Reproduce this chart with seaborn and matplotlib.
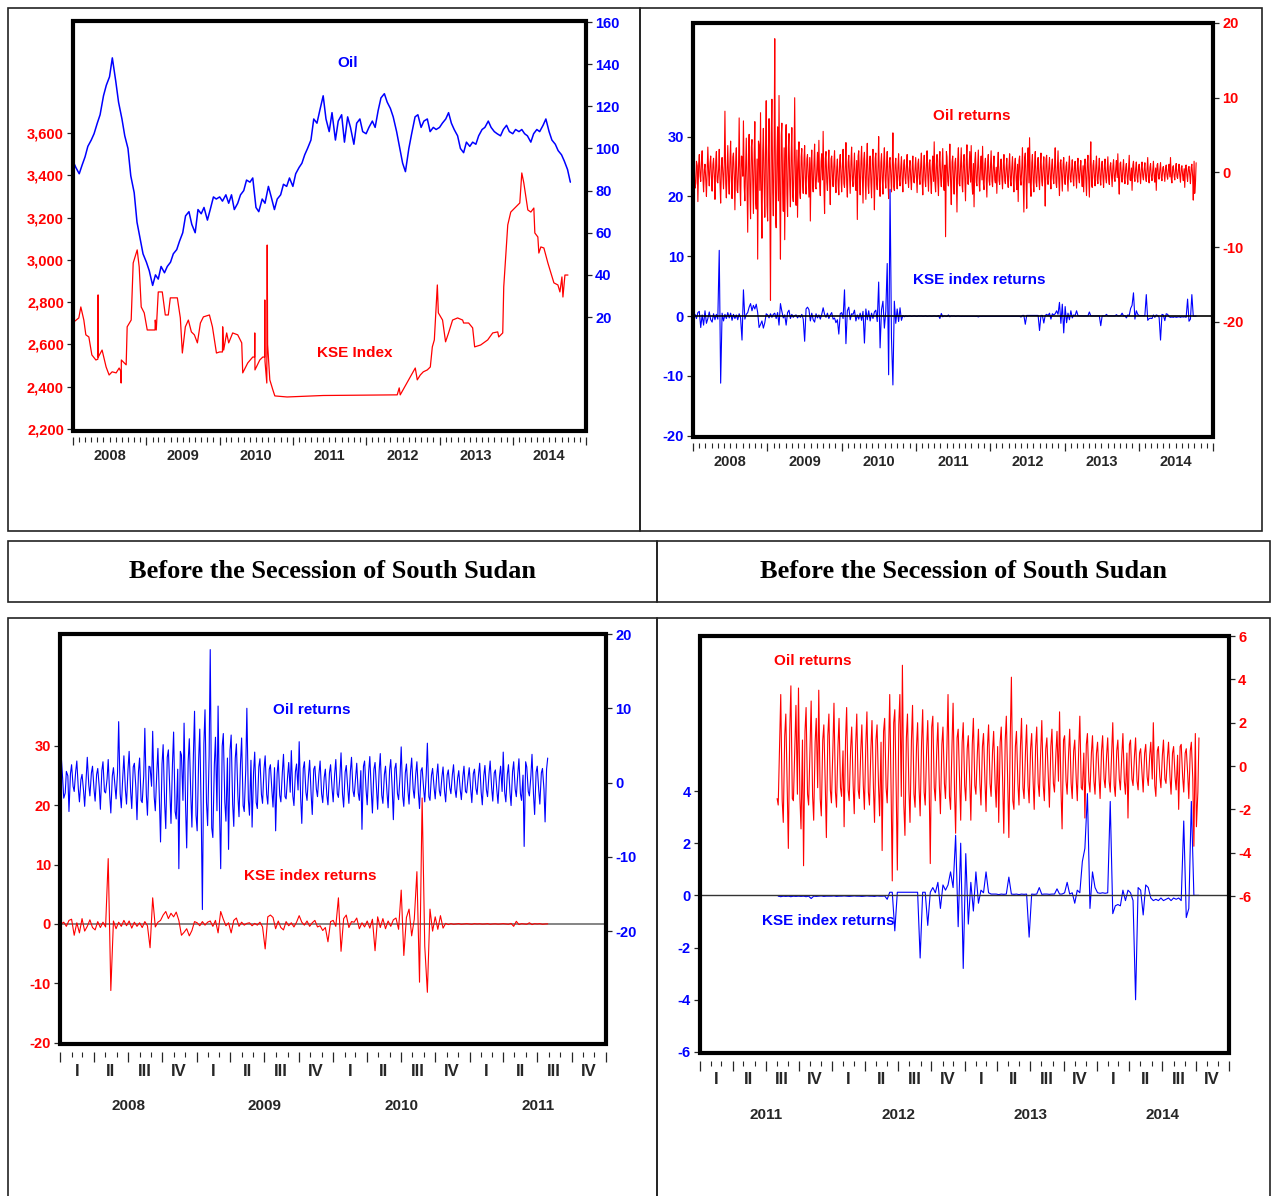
import pandas as pd
import seaborn as sns
import matplotlib
matplotlib.use("Agg")
from matplotlib import pyplot as plt
import matplotlib.dates as mdates
from matplotlib.patches import Rectangle
from matplotlib.ticker import NullFormatter, StrMethodFormatter
from matplotlib import font_manager

# ---------------- data ----------------
# oil price, semi-monthly (1st / 15th) from Jan 2008
oil_price = [94, 91, 88, 92, 96, 101, 104, 107, 112, 116, 125, 130, 134, 143,
             132, 122, 114, 106, 100, 87, 79, 65, 57, 50, 46, 42, 35, 40, 38, 44,
             41, 44, 46, 50, 52, 56, 60, 68, 70, 64, 60, 71, 69, 72, 66, 71, 77,
             76, 77, 75, 78, 74, 78, 71, 74, 78, 80, 85, 84, 86, 72, 70, 76, 74,
             82, 77, 71, 76, 78, 83, 82, 86, 82, 88, 91, 93, 97, 100, 104, 114,
             112, 118, 125, 114, 108, 117, 104, 113, 116, 103, 115, 110, 102, 112,
             114, 108, 107, 110, 113, 110, 118, 124, 126, 122, 119, 115, 108, 101,
             93, 89, 100, 107, 115, 116, 110, 113, 114, 108, 110, 109, 110, 112,
             114, 117, 112, 109, 106, 100, 98, 103, 101, 103, 102, 106, 109, 110,
             113, 110, 108, 107, 106, 109, 111, 108, 107, 109, 108, 109, 107, 106,
             103, 107, 109, 108, 111, 114, 108, 104, 102, 99, 97, 94, 90, 84]

kse_dates = ["2008-01-05", "2008-01-30", "2008-02-09", "2008-02-24", "2008-03-05",
             "2008-03-20", "2008-04-04", "2008-04-24", "2008-05-04", "2008-05-05",
             "2008-05-06", "2008-05-25", "2008-06-14", "2008-06-29", "2008-07-14",
             "2008-08-03", "2008-08-18", "2008-08-27", "2008-08-28", "2008-08-29",
             "2008-09-22", "2008-09-27", "2008-10-17", "2008-10-27", "2008-11-11",
             "2008-11-16", "2008-11-26", "2008-12-06", "2008-12-21", "2009-01-05",
             "2009-01-30", "2009-02-13", "2009-02-14", "2009-02-19", "2009-03-01",
             "2009-03-21", "2009-04-05", "2009-04-20", "2009-04-30", "2009-06-04",
             "2009-06-19", "2009-06-29", "2009-07-14", "2009-07-29", "2009-08-13",
             "2009-08-28", "2009-09-12", "2009-09-27", "2009-10-12", "2009-11-11",
             "2009-11-26", "2009-12-16", "2010-01-01", "2010-01-15", "2010-01-16",
             "2010-01-21", "2010-02-05", "2010-02-15", "2010-03-07", "2010-04-01",
             "2010-04-21", "2010-04-26", "2010-05-21", "2010-06-15", "2010-06-24",
             "2010-06-25", "2010-06-26", "2010-07-20", "2010-08-04", "2010-08-13",
             "2010-08-14", "2010-08-15", "2010-08-24", "2010-08-26", "2010-08-28",
             "2010-09-08", "2010-09-23", "2010-10-03", "2010-12-03", "2011-06-01",
             "2012-06-04", "2012-06-14", "2012-06-19", "2012-09-02", "2012-09-12",
             "2012-09-27", "2012-10-12", "2012-11-01", "2012-11-16", "2012-11-26",
             "2012-12-06", "2012-12-21", "2012-12-26", "2013-01-16", "2013-01-31",
             "2013-02-15", "2013-03-07", "2013-04-01", "2013-04-26", "2013-05-01",
             "2013-05-26", "2013-06-15", "2013-06-25", "2013-07-25", "2013-08-29",
             "2013-09-23", "2013-10-18", "2013-10-23", "2013-11-12", "2013-11-17",
             "2013-12-07", "2013-12-22", "2014-01-16", "2014-02-05", "2014-02-15",
             "2014-02-25", "2014-03-17", "2014-04-01", "2014-04-16", "2014-04-21",
             "2014-05-06", "2014-05-11", "2014-05-21", "2014-06-05", "2014-06-25",
             "2014-07-10", "2014-07-25", "2014-08-14", "2014-08-24", "2014-09-03",
             "2014-09-08", "2014-09-18", "2014-10-03"]
kse_level = [2706, 2725, 2777, 2715, 2645, 2635, 2550, 2526, 2530, 2834,
             2540, 2573, 2493, 2455, 2470, 2465, 2488, 2470, 2417, 2526,
             2503, 2683, 2715, 2985, 3032, 3047, 2966, 2777, 2749, 2668,
             2668, 2668, 2715, 2668, 2848, 2848, 2739, 2739, 2820, 2820,
             2725, 2559, 2683, 2715, 2659, 2645, 2607, 2701, 2730, 2739,
             2683, 2559, 2564, 2564, 2683, 2573, 2654, 2607, 2654, 2645,
             2607, 2465, 2512, 2540, 2540, 2654, 2479, 2526, 2540, 2540,
             2810, 2520, 2417, 3070, 2600, 2432, 2385, 2356, 2351, 2358,
             2361, 2394, 2361, 2488, 2432, 2455, 2470, 2479, 2493, 2588,
             2621, 2881, 2749, 2715, 2612, 2654, 2715, 2725, 2715, 2701,
             2701, 2678, 2588, 2597, 2621, 2654, 2659, 2635, 2654, 2872,
             3165, 3226, 3250, 3269, 3411, 3364, 3236, 3226, 3245, 3127,
             3108, 3032, 3061, 3056, 2985, 2938, 2891, 2881, 2848, 2919,
             2824, 2928, 2928]

# weekly returns (%) on Fridays from 2008-01-04, one row per ~quarter
oil_ret = [
    3.8, -2.1, 1.5, -3.9, 2.4, -1.2, 2.9, -2.6, 1.1, -3.2, 3.4, -1.8, 2.2,
    -2.5, 1.9, -3.6, 2.8, -1.4, 3.1, -4.1, 2.0, -2.2, 8.2, -3.4, 3.6, -2.9,
    4.2, -3.5, 2.6, -5.0, 3.3, -2.7, 7.3, -4.4, 2.1, 6.9, -3.8, 4.6, -8.0,
    5.1, -6.2, 4.4, -5.5, 6.8, -4.9, -11.6, 3.7, 8.0, -8.8, 5.9, -6.0, 9.6,
    -6.5, 7.2, -17.1, 9.8, -5.8, 17.9, -7.4, 6.1, 10.3, -11.6, 6.6, -5.2, -9.0,
    6.4, -5.9, 5.2, -4.6, 6.0, -3.9, 10.0, -4.4, -6.0, 4.1, -3.5, 3.2, -2.8,
    3.6, -2.9, 2.4, -3.3, -6.5, 3.0, -2.6, 3.8, -2.2, 2.7, 4.3, -3.1, 2.5,
    5.5, -5.5, 2.8, -2.4, 3.0, -4.3, 2.2, -1.9, 2.9, -2.7, 1.8, -3.0, 2.4,
    -2.6, 3.1, -2.0, 4.0, -3.3, 2.3, -2.8, 3.4, -1.9, 2.6, -2.4, -6.3, 2.9,
    -3.0, 3.5, -4.1, 2.7, -3.6, 3.9, -2.8, 2.2, -3.4, 3.1, -5.0, 2.6, -2.3,
    4.8, -3.2, 2.5, -2.9, 3.3, -2.1, 2.8, -3.5, 2.0, -2.6, 5.3, -2.4, 1.9,
    -2.2, 2.5, -1.8, 2.1, -2.6, 1.7, -1.5, 2.4, -2.0, 1.6, -2.3, 2.2, -1.4,
    2.0, -2.7, 1.8, -1.6, 2.6, -3.0, 2.3, -1.9, 2.9, -2.5, 1.7, -2.8, 2.2,
    4.1, -2.6, 2.4, -3.1, 2.8, -1.9, 3.2, -2.4, -8.6, 2.1, -1.8, 3.8, -4.3,
    2.2, -2.9, 1.9, -5.3, 3.3, -1.8, 3.3, -2.6, 2.4, -3.8, 3.7, -1.6, 2.8,
    3.6, -2.9, -4.6, 2.7, -1.8, 3.0, -2.5, 2.2, 3.5, -2.3, 1.9, -3.3, 2.4,
    -1.7, 2.9, -1.9, 2.2, -1.4, -2.8, 2.7, -1.6, 1.8, -2.2, 2.4, -1.5, 1.9,
    -2.0, 2.5, -1.8, 2.1, -2.6, 1.9, -2.3, -3.9, 2.2, -1.7, 3.3, -5.3, 2.6,
    -4.8, 3.3, 4.65, -3.2, 2.4, -2.6, 2.8, -1.9, 2.0, -2.3, 2.6, -1.8, 2.1,
    -4.5, 2.3, -1.6, 2.0, -2.2, 1.8, -1.5, 3.3, -2.0, 2.9, -3.1, 1.7, -2.5,
    2.0, -1.6, 1.4, -2.5, 2.2, -1.3, 1.7, -1.8, 1.5, -2.1, 1.9, -1.4, 1.6,
    -1.9, -2.6, 1.8, -3.1, 2.3, -3.3, 4.1, -2.0, 1.6, -1.8, 2.2, -1.5, 1.9,
    -1.7, 1.5, -2.0, 1.8, -1.4, 2.1, -1.6, 1.3, -1.9, 1.7, -1.2, 1.6, 2.5,
    -2.9, 1.4, -1.3, 1.7, -1.5, 1.2, -1.6, 2.3, -1.1, -2.4, 1.5, -1.2, 1.4,
    -1.3, 1.1, -1.5, 1.4, -1.0, 1.3, -1.2, 2.0, -1.4, 1.2, -1.1, 1.5, -1.3,
    -2.4, 1.2, -0.9, 1.3, -1.1, 0.8, -1.2, 1.0, -0.9, 1.1, 2.0, -1.4, 0.9,
    -1.0, 1.2, -0.8, 1.1, -1.3, 0.9, -1.1, -2.0, 1.0, -1.2, 0.8, -1.5, 1.1,
    -3.7, -2.8, 1.3]

# mid-week (Tuesday) oil returns (%) from 2008-01-08: the dense core of the band
oil_ret_mid = [
    0.6, -1.4, 0.9, 1.2, -0.5, 1.5, -0.8, 0.4, -1.1, 0.7, -0.3, 1.3, -0.9,
    1.1, -0.6, 1.6, -1.2, 0.5, -1.7, 0.9, -0.4, 1.4, -1.5, 0.8, -1.0, 1.8,
    -1.2, 2.1, -0.7, 1.5, -2.4, 0.9, -1.6, 2.2, -0.5, -1.9, 1.3, -2.3, 2.5,
    -2.8, 3.4, -1.5, 2.6, -3.9, 1.8, 4.2, -2.4, -3.1, 2.9, -1.7, 3.8, -4.4,
    3.1, -4.6, 5.2, -2.7, 3.6, -6.1, 2.4, -3.8, -4.2, 4.9, -2.6, 3.3, 4.4,
    -2.9, 3.3, -1.8, 2.6, -3.1, 1.7, -2.3, 3.0, 1.4, -2.7, 2.1, -1.6, 1.9,
    -1.6, 1.8, -1.1, 2.0, 1.2, -1.7, 1.4, -1.9, 0.8, -1.3, -1.8, 1.5, -1.0,
    -2.1, 1.9, -1.3, 1.0, -1.6, 1.8, -0.9, 1.2, -1.5, 0.7, -1.7, 1.3, -0.8,
    1.2, -1.5, 0.9, -1.6, 1.4, -0.8, 1.5, -1.1, 0.6, -1.4, 1.6, 2.2, -1.0,
    1.5, -1.2, 1.8, -1.0, 1.6, -1.7, 1.1, -1.4, 1.7, -0.9, 1.9, -1.5, 1.0,
    -1.8, 1.3, -1.1, 1.5, -0.9, 1.2, -1.4, 1.6, -0.8, 1.1, -1.9, 1.0, -0.7,
    0.9, -1.1, 0.8, -1.2, 1.0, -0.7, 1.1, -0.9, 0.6, -1.0, 0.8, -1.2, 0.7,
    -0.9, 1.2, -0.8, 1.1, -1.3, 0.9, -1.0, 1.2, -0.7, 1.3, -1.1, 0.8, -1.2,
    -1.4, 1.1, -1.3, 1.5, -0.9, 1.2, -1.5, 1.0, 2.8, -1.2, 0.9, -1.6, 1.4,
    -1.0, 1.3, -0.9, 1.8, -1.5, 1.2, -1.6, 1.4, -1.1, 1.7, -1.5, 1.0, -1.3,
    -1.5, 1.2, 1.6, -1.3, 0.9, -1.4, 1.1, -1.0, -1.5, 1.2, -0.9, 1.4, -1.1,
    0.8, -1.2, 0.9, -1.0, 0.7, 1.2, -1.1, 0.8, -0.9, 1.0, -1.1, 0.7, -0.9,
    1.0, -1.2, 0.8, -1.0, 1.2, -0.9, 1.1, 1.6, -1.0, 0.8, -1.4, 2.0, -1.2,
    1.9, -1.4, -1.8, 1.3, -1.1, 1.2, -1.3, 0.9, -1.0, 1.1, -1.2, 0.8, -1.0,
    1.8, -1.0, 0.8, -0.9, 1.0, -0.8, 0.9, -1.4, 1.0, -1.2, 1.3, -0.8, 1.1,
    -0.9, 0.8, -0.7, 1.0, -0.9, 0.6, -0.8, 0.9, -0.7, 0.9, -0.8, 0.7, -0.8,
    0.9, 1.1, -0.8, 1.2, -1.0, 1.4, -1.6, 0.9, -0.8, 0.9, -1.0, 0.7, -0.9,
    0.8, -0.7, 0.9, -0.8, 0.7, -0.9, 0.8, -0.6, 0.9, -0.8, 0.6, -0.7, -1.1,
    1.2, -0.7, 0.6, -0.8, 0.7, -0.6, 0.8, -1.0, 0.6, 1.0, -0.7, 0.6, -0.7,
    0.6, -0.5, 0.7, -0.6, 0.5, -0.7, 0.6, -0.9, 0.7, -0.6, 0.5, -0.7, 0.6,
    1.0, -0.6, 0.5, -0.7, 0.6, -0.4, 0.6, -0.5, 0.5, -0.6, -0.9, 0.7, -0.5,
    0.5, -0.6, 0.4, -0.5, 0.6, -0.5, 0.5, 0.9, -0.5, 0.6, -0.4, 0.7, -0.6,
    1.5, -1.2]

kse_ret = [
    0.0, 0.3, -0.4, 0.6, 0.8, -1.9, 0.2, -1.5, 0.9, -1.2, -0.4, 0.7, -0.6,
    -1.0, 0.4, -0.6, 0.3, -0.5, 11.0, -11.2, 0.5, -0.8, 0.3, -0.4, 0.6, -0.3,
    0.5, -0.7, 0.3, -0.4, 0.2, -0.6, 0.4, -0.3, -4.0, 4.4, -0.5, 0.3, 0.6,
    1.5, 2.1, 0.9, 1.8, 1.2, 2.0, 0.6, -1.9, -1.4, -0.8, -2.0, -1.1, 0.4,
    0.2, -0.3, 0.4, -0.2, 0.3, 0.5, -0.4, 0.6, -1.5, 2.1, 0.8, -0.3, 0.2,
    -1.5, 0.6, 1.0, -0.4, 0.3, -0.2, 0.1, 0.2, -0.3, 0.1, -0.2, 0.3, -0.5,
    -4.2, 1.2, 1.5, 1.1, -0.8, 0.5, -0.6, -1.0, 0.4, -0.3, 0.2, -0.5, 0.3,
    1.4, 0.3, -0.2, 0.5, -0.4, 0.2, 0.6, -0.5, -0.3, -1.1, -0.6, -3.0, 0.4,
    0.6, -0.4, 4.4, -4.6, 0.9, 1.5, -0.6, 0.4, 0.3, 1.0, -0.8, 0.2, -0.5,
    0.5, -0.7, 0.8, -4.5, 1.2, -0.6, 0.9, -0.8, 0.5, -0.4, 0.7, 1.0, -0.9,
    5.7, -5.3, 1.1, 2.5, -2.0, 0.8, 8.8, -9.8, 21.2, -3.7, -11.5, 2.5, -1.2,
    1.2, -0.9, 1.4, -0.7, 0.1, -0.1, 0.05, -0.05, 0.0, 0.05, -0.05, 0.0, 0.05,
    0.0, -0.05, 0.05, 0.0, 0.03, -0.03, 0.0, 0.05, -0.05, 0.0, 0.03, -0.03, 0.0,
    0.05, 0.0, -0.05, 0.1, -0.4, 0.45, -0.1, 0.05, 0.0, -0.05, 0.2, -0.1, 0.05,
    0.0, 0.05, -0.05, 0.0, 0.02, -0.03, -0.05, -0.03, -0.04, -0.03, -0.05, -0.03, -0.04,
    -0.03, -0.04, -0.03, -0.05, -0.03, -0.12, -0.03, -0.04, -0.03, -0.02, -0.04, -0.03, -0.03,
    -0.03, -0.02, -0.04, -0.03, -0.03, -0.02, -0.03, -0.04, -0.03, -0.02, -0.03, -0.03, -0.04,
    -0.03, -0.02, -0.03, -0.03, -0.04, -0.02, -0.03, -0.03, -0.02, -0.15, 0.12, 0.12, -1.36,
    0.12, 0.12, 0.12, 0.12, 0.12, 0.12, 0.12, 0.12, 0.12, -2.4, 0.12, 0.12, -1.15,
    0.12, 0.3, 0.1, 0.5, -0.5, 0.4, 0.2, 0.4, 0.9, 0.3, 2.3, -1.2, 2.0,
    -2.8, 1.6, -1.1, 0.5, -0.6, 0.9, -0.3, 0.2, 0.1, 0.9, 0.1, 0.05, 0.05,
    0.05, 0.03, 0.05, 0.04, 0.05, 0.7, 0.05, 0.04, 0.05, 0.03, 0.05, 0.04, 0.05,
    -1.6, 0.05, 0.04, 0.05, 0.3, 0.04, 0.05, 0.05, 0.04, 0.05, 0.05, 0.25, 0.05,
    0.05, 0.1, 0.5, 0.05, 0.1, -0.3, 0.2, 0.1, 1.3, 1.8, 3.9, -0.5, 0.9,
    0.3, 0.1, 0.08, 0.1, 0.08, 0.1, 3.6, -0.7, -0.4, -0.35, -0.4, 0.2, -0.2,
    0.2, 0.1, -0.2, -4.0, 0.3, 0.2, -0.75, 0.4, 0.3, -0.1, -0.2, -0.15, -0.2,
    -0.1, -0.2, -0.15, -0.1, -0.2, -0.1, -0.15, -0.1, -0.2, 2.85, -0.85, -0.5, 3.6,
    0.0, 0.0, 0.0]

SPLIT = "2011-08-01"
TITLE = "Before the Secession of South Sudan"
QUARTERS = ["I", "II", "III", "IV"]

oil_dates = pd.date_range("2008-01-01", periods=len(oil_price), freq="SMS")
fri = pd.date_range("2008-01-04", periods=len(oil_ret), freq="7D")
tue = pd.date_range("2008-01-08", periods=len(oil_ret_mid), freq="7D")
oil_r = pd.concat([pd.DataFrame({"date": fri, "oil": oil_ret}),
                   pd.DataFrame({"date": tue, "oil": oil_ret_mid})]).sort_values("date")
kse_r = pd.DataFrame({"date": pd.date_range("2008-01-04", periods=len(kse_ret), freq="7D"),
                      "kse": kse_ret})

# ---------------- style ----------------
sns.set_style("ticks")
installed = {f.name for f in font_manager.fontManager.ttflist}
NARROW = "Liberation Sans Narrow" in installed
plt.rcParams["font.family"] = ["Liberation Sans Narrow" if NARROW else "Liberation Sans", "DejaVu Sans"]
plt.rcParams["font.weight"] = "bold"
plt.rcParams["axes.unicode_minus"] = False
TICK_FS = 12.5 if NARROW else 10.5
LAB_FS = 13 if NARROW else 11
RED, BLUE = "#ff0000", "#0000ff"

W, H = 1274, 1196
fig = plt.figure(figsize=(W / 100, H / 100), dpi=100)


def fx(x):
    return x / W


def fy(y):
    return 1 - y / H


def panel(box, xlim, left_lim, right_lim, left_ticks, right_ticks, lc, rc, quarterly):
    x0, y0, x1, y1 = box
    ax = fig.add_axes([fx(x0), fy(y1), (x1 - x0) / W, (y1 - y0) / H])
    ax2 = ax.twinx()
    ax.set_zorder(ax2.get_zorder() + 1)
    ax.patch.set_visible(False)
    for a in (ax, ax2):
        for s in a.spines.values():
            s.set_visible(False)
    ax.spines["bottom"].set_position(("outward", 6 if quarterly else 4))
    ax.add_patch(Rectangle((0, 0), 1, 1, transform=ax.transAxes, fill=False,
                           lw=3, ec="black", clip_on=False, zorder=10))
    return ax, ax2, (xlim, left_lim, right_lim, left_ticks, right_ticks, lc, rc, quarterly, y1 - y0)


def finish(ax, ax2, cfg):
    xlim, left_lim, right_lim, left_ticks, right_ticks, lc, rc, quarterly, hpx = cfg
    ax.set_xlim(pd.Timestamp(xlim[0]), pd.Timestamp(xlim[1]))
    ax.set_ylim(*left_lim)
    ax2.set_ylim(*right_lim)
    ax.set_yticks(left_ticks)
    ax2.set_yticks(right_ticks)
    for a in (ax, ax2):
        a.set_xlabel("")
        a.set_ylabel("")
    ax.tick_params(axis="y", direction="out", length=4.5, width=0.9, pad=2,
                   labelsize=TICK_FS, labelcolor=lc, left=True, right=False)
    ax2.tick_params(axis="y", direction="out", length=4.5, width=0.9, pad=2,
                    labelsize=TICK_FS, labelcolor=rc, right=True, left=False)
    if quarterly:
        ax.xaxis.set_major_locator(mdates.MonthLocator(bymonth=(1, 4, 7, 10)))
        major_len = 7
    else:
        ax.xaxis.set_major_locator(mdates.YearLocator())
        major_len = 6
    ax.xaxis.set_minor_locator(mdates.MonthLocator())
    ax.xaxis.set_major_formatter(NullFormatter())
    ax.xaxis.set_minor_formatter(NullFormatter())
    ax.tick_params(axis="x", which="major", direction="out", length=major_len, width=0.9, bottom=True)
    ax.tick_params(axis="x", which="minor", direction="out", length=3.5, width=0.8, bottom=True)
    trans = ax.get_xaxis_transform()
    y0, y1 = int(xlim[0][:4]), int(xlim[1][:4])
    if quarterly:
        for yr in range(y0, y1):
            for q, lab in enumerate(QUARTERS):
                c = pd.Timestamp(yr, 3 * q + 1, 1) + pd.Timedelta(days=45)
                ax.text(mdates.date2num(c), -27 / hpx, lab, transform=trans,
                        ha="center", va="center", fontsize=TICK_FS + 1.5)
            ax.text(mdates.date2num(pd.Timestamp(yr, 7, 2)), -62 / hpx, str(yr),
                    transform=trans, ha="center", va="center", fontsize=TICK_FS + 0.5)
    else:
        for yr in range(y0, y1):
            ax.text(mdates.date2num(pd.Timestamp(yr, 7, 2)), -25 / hpx, str(yr),
                    transform=trans, ha="center", va="center", fontsize=TICK_FS)


# ---- top left: levels ----
ax, ax2, cfg = panel((73, 21, 586, 431), ("2008-01-01", "2015-01-01"), (2190, 4130), (-34.1, 160.5),
                     range(2200, 3601, 200), range(20, 161, 20), RED, BLUE, False)
sns.lineplot(x=oil_dates, y=oil_price, ax=ax2, color=BLUE, lw=1.1, errorbar=None)
sns.lineplot(x=pd.to_datetime(kse_dates), y=kse_level, ax=ax, color=RED, lw=0.9, errorbar=None)
finish(ax, ax2, cfg)
ax.yaxis.set_major_formatter(StrMethodFormatter("{x:,.0f}"))

# ---- top right: returns, full period ----
ax, ax2, cfg = panel((693, 23, 1213, 437), ("2008-01-01", "2015-01-01"), (-20.2, 49.0), (-35.4, 20),
                     range(-20, 31, 10), range(-20, 21, 10), BLUE, RED, False)
sns.lineplot(data=oil_r, x="date", y="oil", ax=ax2, color=RED, lw=0.8, errorbar=None)
sns.lineplot(data=kse_r, x="date", y="kse", ax=ax, color=BLUE, lw=0.8, errorbar=None)
ax.axhline(0, color="black", lw=1.2, zorder=3)
finish(ax, ax2, cfg)

# ---- bottom left: returns before ----
ax, ax2, cfg = panel((60, 634, 606, 1044), ("2008-01-01", "2012-01-01"), (-20.2, 48.8), (-35.2, 20),
                     range(-20, 31, 10), range(-20, 21, 10), RED, BLUE, True)
sns.lineplot(data=oil_r[oil_r["date"] < SPLIT], x="date", y="oil", ax=ax2, color=BLUE, lw=0.8, errorbar=None)
ax.axhline(0, color="#707070", lw=1.2, zorder=1.5)
sns.lineplot(data=kse_r[kse_r["date"] < SPLIT], x="date", y="kse", ax=ax, color=RED, lw=0.8, errorbar=None)
finish(ax, ax2, cfg)

# ---- bottom right: returns after ----
ax, ax2, cfg = panel((700, 636, 1229, 1053), ("2011-01-01", "2015-01-01"), (-6.04, 9.94), (-13.24, 6),
                     range(-6, 5, 2), range(-6, 7, 2), BLUE, RED, True)
sns.lineplot(data=oil_r[oil_r["date"] >= SPLIT], x="date", y="oil", ax=ax2, color=RED, lw=0.8, errorbar=None)
sns.lineplot(data=kse_r[kse_r["date"] >= SPLIT], x="date", y="kse", ax=ax, color=BLUE, lw=0.8, errorbar=None)
ax.axhline(0, color="#333333", lw=1.0, zorder=2.5)
finish(ax, ax2, cfg)

# ---- series labels ----
for x, y, s, c in [(348, 63, "Oil", BLUE), (355, 353, "KSE Index", RED),
                   (972, 116, "Oil returns", RED), (979, 280, "KSE index returns", BLUE),
                   (312, 710, "Oil returns", BLUE), (310, 876, "KSE index returns", RED),
                   (813, 661, "Oil returns", RED), (828, 921, "KSE index returns", BLUE)]:
    fig.text(fx(x), fy(y), s, color=c, fontsize=LAB_FS, ha="center", va="center")

# ---- outer boxes and titles ----
for x0, y0, x1, y1 in [(8, 8, 640, 531), (640, 8, 1262, 531), (8, 541, 657, 602),
                       (657, 541, 1270, 602), (8, 618, 657, 1230), (657, 618, 1270, 1230)]:
    fig.add_artist(Rectangle((fx(x0), fy(y1)), (x1 - x0) / W, (y1 - y0) / H,
                             transform=fig.transFigure, fill=False, lw=1.2, ec="#222222"))
for cx in (332.5, 963.5):
    fig.text(fx(cx), fy(571), TITLE, family=["Liberation Serif", "DejaVu Serif"],
             weight="bold", fontsize=19, ha="center", va="center", color="black")

fig.savefig("out.png", dpi=100)
